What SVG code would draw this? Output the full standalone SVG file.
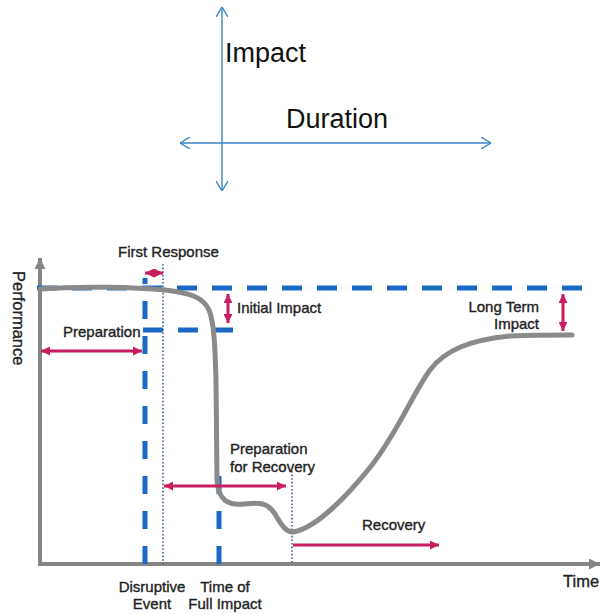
<svg xmlns="http://www.w3.org/2000/svg" width="602" height="614" viewBox="0 0 602 614">
  <style>
    .lbl { font-family: "Liberation Sans", Arial, sans-serif; font-size: 15px; fill: #222; stroke: #222; stroke-width: 0.35; }
    .ax { font-size: 16.5px; }
    .big { font-family: "Liberation Sans", Arial, sans-serif; font-size: 27px; fill: #111; }
    .cross { stroke: #3a84c6; stroke-width: 1.4; fill: none; }
    .axis { stroke: #858585; stroke-width: 4; fill: none; }
    .dash { stroke: #1a68c4; stroke-width: 5; fill: none; stroke-dasharray: 20 15; }
    .vdash { stroke: #1a68c4; stroke-width: 5; fill: none; stroke-dasharray: 18 17; }
    .dot { stroke: #3d5f8c; stroke-width: 1.6; fill: none; stroke-dasharray: 1.6 2; }
    .span { stroke: #c81d5e; stroke-width: 3; fill: none; }
  </style>
  <defs>
    <marker id="chev" viewBox="0 0 10 12" refX="10" refY="6" markerWidth="10" markerHeight="12" markerUnits="userSpaceOnUse" orient="auto-start-reverse">
      <path d="M0,0 L10,6 L0,12" fill="none" stroke="#3a84c6" stroke-width="1.4"/>
    </marker>
    <marker id="tri" viewBox="0 0 10 10" refX="10" refY="5" markerWidth="11" markerHeight="11" markerUnits="userSpaceOnUse" orient="auto-start-reverse">
      <path d="M0,0 L10,5 L0,10 z" fill="#858585"/>
    </marker>
    <marker id="head" viewBox="0 0 10 10" refX="10" refY="5" markerWidth="9" markerHeight="9" markerUnits="userSpaceOnUse" orient="auto-start-reverse">
      <path d="M0,0 L10,5 L0,10 z" fill="#c81d5e"/>
    </marker>
  </defs>

  <!-- impact / duration cross -->
  <g id="cross">
    <line class="cross" x1="222" y1="191" x2="222" y2="7" marker-start="url(#chev)" marker-end="url(#chev)"/>
    <line class="cross" x1="180" y1="143" x2="491" y2="143" marker-start="url(#chev)" marker-end="url(#chev)"/>
    <text class="big" x="225" y="62">Impact</text>
    <text class="big" x="286" y="128">Duration</text>
  </g>

  <!-- chart axes -->
  <g id="axes">
    <path class="axis" d="M40,258 L40,564 L600,564" />
    <line class="axis" x1="40" y1="300" x2="40" y2="258" marker-end="url(#tri)"/>
    <line class="axis" x1="560" y1="564" x2="600" y2="564" marker-end="url(#tri)"/>
    <text class="lbl ax" x="0" y="0" transform="translate(13,271) rotate(90)">Performance</text>
    <text class="lbl ax" x="563" y="587">Time</text>
  </g>

  <!-- reference levels and event markers -->
  <g id="guides">
    <line class="dash" x1="37" y1="288" x2="582" y2="288"/>
    <line class="dash" x1="143" y1="330" x2="233" y2="330"/>
    <line class="vdash" x1="145" y1="564" x2="145" y2="278"/>
    <line class="vdash" x1="219" y1="564" x2="219" y2="476"/>
    <line class="dot" x1="163" y1="264" x2="163" y2="564"/>
    <line class="dot" x1="292" y1="471" x2="292" y2="564"/>
  </g>

  <!-- performance curve -->
  <g id="curve">
    <path d="M40,289 C80,286 135,287 165,290 C190,293 203,297 209,310 C214,322 215,345 216,380 L217,480 C218,500 228,506 245,504 C260,502 268,503 275,514 C282,526 286,532 293,532 C312,529 340,505 372,465 C400,428 412,395 430,370 C445,350 470,340 510,336 C535,335 555,335 572,335" fill="none" stroke="#8a8a8a" stroke-width="5" stroke-linecap="round"/>
  </g>

  <!-- measured spans -->
  <g id="connectors">
    <line class="span" x1="145" y1="273" x2="163" y2="273" marker-start="url(#head)" marker-end="url(#head)"/>
    <line class="span" x1="228" y1="294" x2="228" y2="323" marker-start="url(#head)" marker-end="url(#head)"/>
    <line class="span" x1="41" y1="351" x2="142" y2="351" marker-start="url(#head)" marker-end="url(#head)"/>
    <line class="span" x1="164" y1="486" x2="286" y2="486" marker-start="url(#head)" marker-end="url(#head)"/>
    <line class="span" x1="293" y1="545" x2="439" y2="545" marker-end="url(#head)"/>
    <line class="span" x1="563" y1="294" x2="563" y2="331" marker-start="url(#head)" marker-end="url(#head)"/>
  </g>

  <!-- labels -->
  <g id="first-response"><text class="lbl" x="118" y="257">First Response</text></g>
  <g id="initial-impact"><text class="lbl" x="237" y="313">Initial Impact</text></g>
  <g id="preparation"><text class="lbl" x="63" y="337">Preparation</text></g>
  <g id="long-term-impact">
    <text class="lbl" x="539" y="312" text-anchor="end">Long Term</text>
    <text class="lbl" x="539" y="329" text-anchor="end">Impact</text>
  </g>
  <g id="prep-recovery">
    <text class="lbl" x="230" y="454">Preparation</text>
    <text class="lbl" x="230" y="472">for Recovery</text>
  </g>
  <g id="recovery"><text class="lbl" x="362" y="530">Recovery</text></g>
  <g id="disruptive-event">
    <text class="lbl" x="152" y="592" text-anchor="middle">Disruptive</text>
    <text class="lbl" x="152" y="609" text-anchor="middle">Event</text>
  </g>
  <g id="full-impact">
    <text class="lbl" x="225" y="592" text-anchor="middle">Time of</text>
    <text class="lbl" x="225" y="609" text-anchor="middle">Full Impact</text>
  </g>
</svg>
